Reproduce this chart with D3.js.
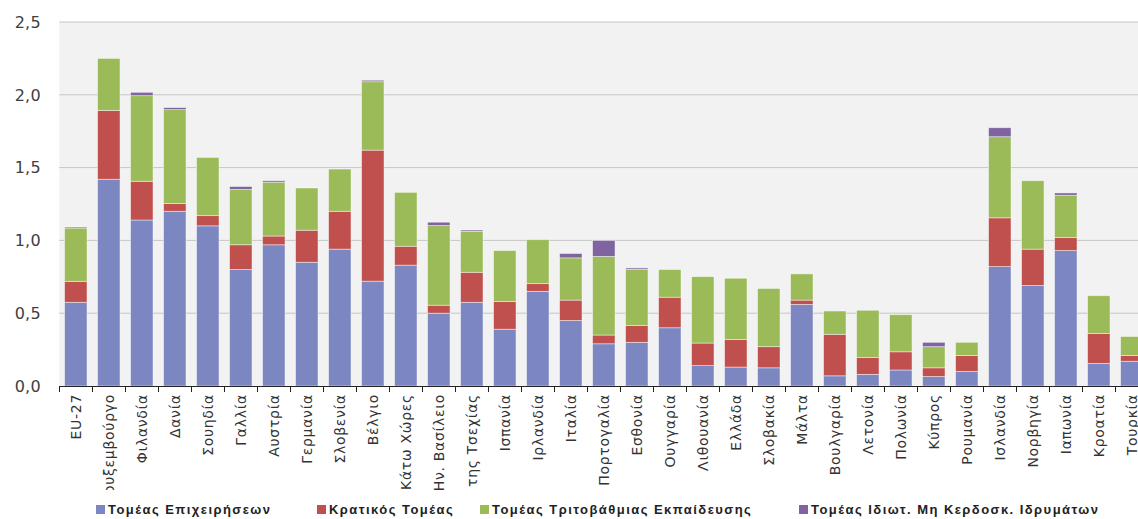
<!DOCTYPE html>
<html><head><meta charset="utf-8">
<script src="https://cdn.jsdelivr.net/npm/d3@7/dist/d3.min.js"></script>
<style>
html,body{margin:0;padding:0;background:#fff;}
svg{display:block;}
</style></head>
<body>
<svg id="chart" width="1138" height="519"></svg>
<script>
const categories = ["EU-27","Λουξεμβούργο","Φιλανδία","Δανία","Σουηδία","Γαλλία","Αυστρία","Γερμανία","Σλοβενία","Βέλγιο","Κάτω Χώρες","Ην. Βασίλειο","Δημ. της Τσεχίας","Ισπανία","Ιρλανδία","Ιταλία","Πορτογαλία","Εσθονία","Ουγγαρία","Λιθουανία","Ελλάδα","Σλοβακία","Μάλτα","Βουλγαρία","Λετονία","Πολωνία","Κύπρος","Ρουμανία","Ισλανδία","Νορβηγία","Ιαπωνία","Κροατία","Τουρκία"];
const business   = [0.575,1.42,1.14,1.20,1.10,0.80,0.97,0.85,0.94,0.72,0.83,0.50,0.575,0.39,0.65,0.45,0.29,0.30,0.40,0.14,0.13,0.125,0.56,0.07,0.08,0.11,0.065,0.10,0.82,0.69,0.93,0.155,0.17];
const government = [0.144,0.473,0.266,0.053,0.07,0.17,0.06,0.22,0.26,0.90,0.13,0.055,0.206,0.19,0.053,0.14,0.06,0.115,0.21,0.155,0.19,0.145,0.03,0.285,0.115,0.125,0.06,0.11,0.335,0.25,0.09,0.205,0.04];
const higherEdu  = [0.366,0.357,0.588,0.645,0.40,0.38,0.37,0.29,0.29,0.47,0.37,0.547,0.281,0.35,0.302,0.29,0.54,0.387,0.19,0.456,0.42,0.40,0.18,0.16,0.325,0.255,0.145,0.09,0.557,0.47,0.29,0.26,0.13];
const privateNP  = [0.007,0,0.023,0.014,0,0.02,0.01,0,0,0.01,0,0.023,0.009,0,0,0.03,0.11,0.009,0,0,0,0,0,0,0,0,0.03,0,0.062,0,0.016,0,0];
const seriesNames = ["Τομέας Επιχειρήσεων","Κρατικός Τομέας","Τομέας Τριτοβάθμιας Εκπαίδευσης","Τομέας Ιδιωτ. Μη Κερδοσκ. Ιδρυμάτων"];
const seriesColors = ["#7c87c2","#c0504d","#9bbb59","#8064a2"];
const yTicks = [0,0.5,1.0,1.5,2.0,2.5];

const keys = ["b","g","h","p"];
const rows = categories.map((c,i)=>({cat:c,b:business[i],g:government[i],h:higherEdu[i],p:privateNP[i]}));
const stacked = d3.stack().keys(keys)(rows);

const svg = d3.select("#chart");
const left = 59.3, step = 33.0;
const x = d3.scaleBand().domain(categories).range([left, left + step*categories.length]).paddingInner(0.32).paddingOuter(0.16);
const y = d3.scaleLinear().domain([0,2.5]).range([386,22]);

// plot background
svg.append("rect").attr("x",left).attr("y",y(2.5)).attr("width",1138-left).attr("height",y(0)-y(2.5)).attr("fill","#f2f2f2");

// gridlines
svg.append("g").selectAll("line").data(yTicks.slice(1)).join("line")
  .attr("x1",left).attr("x2",1138).attr("y1",d=>y(d)).attr("y2",d=>y(d))
  .attr("stroke","#c6c6c6").attr("stroke-width",1);

// y labels
svg.append("g").selectAll("text").data(yTicks).join("text")
  .attr("x",41).attr("y",d=>y(d)).attr("dy","0.36em").attr("text-anchor","end")
  .attr("font-family","DejaVu Sans, sans-serif").attr("font-size",16).attr("letter-spacing","0.3px").attr("fill","#404040")
  .text(d=>d3.format(".1f")(d).replace(".",","));

// bars
svg.append("g").selectAll("g").data(stacked).join("g")
  .attr("fill",(d,i)=>seriesColors[i])
  .selectAll("rect").data(d=>d.filter(s=>s[1]-s[0]>0)).join("rect")
  .attr("x",d=>x(d.data.cat)).attr("width",x.bandwidth())
  .attr("y",d=>y(d[1])).attr("height",d=>y(d[0])-y(d[1]))
  .attr("stroke","rgba(255,255,255,0.55)").attr("stroke-width",0.8);

// x axis line and ticks
const xa = svg.append("g");
xa.append("line").attr("x1",left).attr("x2",1138).attr("y1",386.5).attr("y2",386.5).attr("stroke","#222").attr("stroke-width",1.2);
xa.selectAll("line.t").data(d3.range(categories.length+1)).join("line").attr("class","t")
  .attr("x1",i=>Math.round(left+i*step)+0.5).attr("x2",i=>Math.round(left+i*step)+0.5)
  .attr("y1",386).attr("y2",392).attr("stroke","#222");

// clip for labels
svg.append("defs").append("clipPath").attr("id","lblclip").append("rect")
  .attr("x",0).attr("y",388).attr("width",1138).attr("height",102);

svg.append("g").attr("clip-path","url(#lblclip)").selectAll("text").data(categories).join("text")
  .attr("transform",d=>`translate(${x(d)+x.bandwidth()/2},394) rotate(-90)`)
  .attr("dy","0.35em").attr("text-anchor","end")
  .attr("font-family","DejaVu Sans, sans-serif").attr("font-size",14)
  .attr("letter-spacing","0.7px").attr("fill","#333")
  .text(d=>d);

// legend
const legX = [96,317,480,799];
const lg = svg.append("g").selectAll("g").data(seriesNames).join("g")
  .attr("transform",(d,i)=>`translate(${legX[i]},505)`);
lg.append("rect").attr("width",9).attr("height",9).attr("fill",(d,i)=>seriesColors[i]);
lg.append("text").attr("x",12).attr("y",4.5).attr("dy","0.35em")
  .attr("font-family","Liberation Sans, Arial, sans-serif").attr("font-size",13).attr("font-weight","bold")
  .attr("letter-spacing","1.45px").attr("fill","#222").text(d=>d);
</script>
</body></html>
